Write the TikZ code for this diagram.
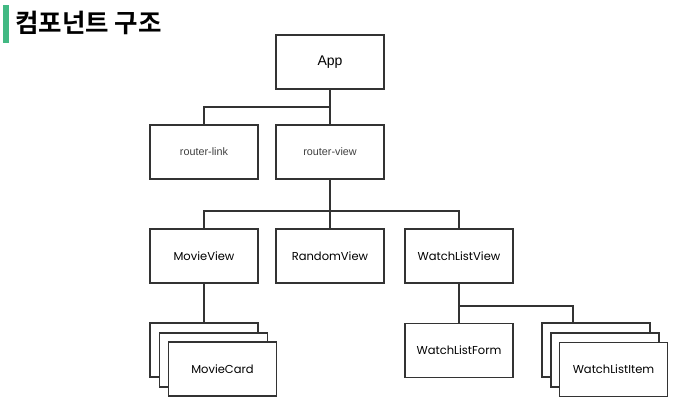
\documentclass[tikz,border=0pt]{standalone}
\usepackage{fontspec}
\setmainfont{Liberation Sans}
\newfontfamily\pop{Poppins}
\newfontfamily\kr{Noto Sans CJK KR}[BoldFont={* Bold}]
\definecolor{vuegreen}{HTML}{42B983}
\definecolor{lnc}{HTML}{333333}
\begin{document}
\begin{tikzpicture}[x=1pt,y=-1pt,
  box/.style={draw=lnc,line width=1.2pt,fill=white,minimum width=108pt,minimum height=54pt,inner sep=0pt,font=\pop\fontsize{11.5}{13}\selectfont,text=black},
  abox/.style={box,font=\fontsize{14}{16}\selectfont},
  rbox/.style={box,font=\fontsize{10.8}{12}\selectfont,text=black!75},
  ln/.style={draw=lnc,line width=1.2pt}]
\useasboundingbox (0,0) rectangle (680,413);
\fill[vuegreen] (3,5) rectangle (9,43);
\node[anchor=west,inner sep=0pt,font=\kr\bfseries\fontsize{25.5}{28}\selectfont] (title) at (15,23) {컴포넌트 구조};
% nodes
\node[abox] (app) at (330,62) {App};
\node[rbox] (rlink) at (204,152) {router-link};
\node[rbox] (rview) at (330,152) {router-view};
\node[box] (mview) at (204,256) {MovieView};
\node[box] (rand) at (330,256) {RandomView};
\node[box] (wlv) at (459,256) {WatchListView};
\node[box] (mcb) at (204,350) {};
\node[box] (mcm) at (213.5,360) {};
\node[box] (mcf) at (222.5,369) {MovieCard};
\node[box] (wlf) at (459,350.5) {WatchListForm};
\node[box] (wib) at (596,350) {};
\node[box] (wim) at (605,360) {};
\node[box] (wif) at (613.5,369.5) {WatchListItem};
% junctions
\coordinate (j1) at (0,107);
\coordinate (j2) at (0,211);
\coordinate (j3) at (0,306);
\coordinate (wj) at (573,306);
\draw[ln] (app.south) -- (app.south|-j1) -| (rlink.north);
\draw[ln] (app.south|-j1) -- (rview.north);
\draw[ln] (rview.south) -- (rview.south|-j2) -| (mview.north);
\draw[ln] (rview.south|-j2) -- (rand.north);
\draw[ln] (rview.south|-j2) -| (wlv.north);
\draw[ln] (mview.south) -- (mcb.north);
\draw[ln] (wlv.south) -- (wlv.south|-j3) -- (wj) -- (wj|-wib.north);
\draw[ln] (wlv.south|-j3) -- (wlf.north);
\end{tikzpicture}
\end{document}
